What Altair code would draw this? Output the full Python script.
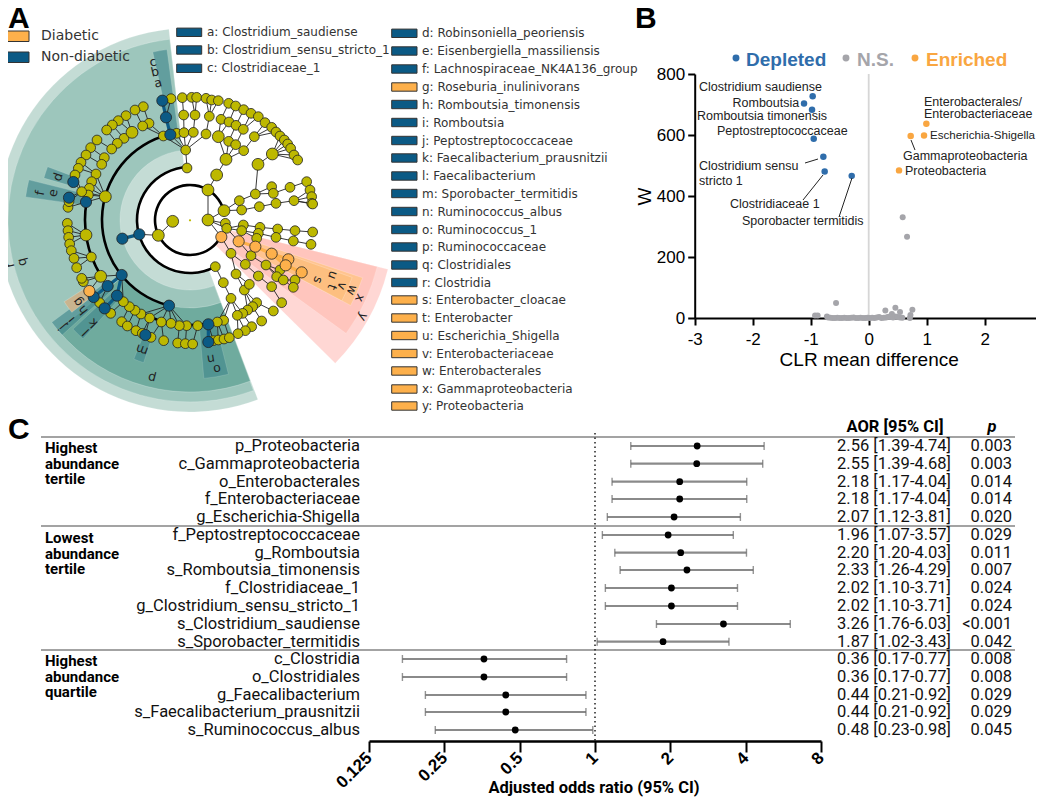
import altair as alt
import numpy as np
import pandas as pd

W, H = 1028, 789
CX, CY = 190, 220

def PX():
    return alt.Scale(domain=[8, 8 + W], range=[0, W], zero=False, nice=False)
def PY():
    return alt.Scale(domain=[8, 8 + H], range=[0, H], zero=False, nice=False)

olive_nodes = [
 (513,296),(547,293),(575,292),(590,292),(618,295),(635,300),(655,302),(686,310),(707,318),(731,329),
 (753,340),(775,350),(795,368),(815,382),(828,396),(840,408),(853,420),(863,432),(872,445),(882,465),(893,480),
 (551,345),(585,345),(628,349),(663,358),(687,366),(708,376),(730,388),(763,410),
 (490,408),(530,400),(552,398),(580,397),(618,402),(686,424),(707,434),(731,452),
 (557,450),(561,504),(718,602),(725,630),(766,582),(778,620),(815,560),(820,580),(828,610),(870,562),(882,602),
 (920,545),(930,570),(935,590),(935,610),(938,612),
 (676,670),(680,685),(730,675),(725,692),(780,682),(775,700),(770,715),(833,687),(828,712),(885,692),(880,723),(938,696),(933,733),
 (693,760),(753,767),(736,793),(798,795),(775,828),(815,860),(646,800),(670,848),(708,822),(733,870),(748,853),(693,895),
 (840,810),(830,830),(850,840),(885,840),(880,862),(845,908),(820,933),(785,963),(755,980),(736,992),(714,1001),
 (770,908),(758,920),(743,930),(728,940),(712,946),(671,961),(652,966),
 (640,1022),(655,1020),(672,1017),(688,1013),
 (593,977),(560,977),(538,977),(513,970),(484,966),(449,954),(423,942),(405,931),(388,920),(370,905),
 (491,1022),(533,1029),(556,1031),(578,1032),(453,1012),(365,965),(382,978),(408,992),(427,1000),
 (274,771),(299,908),(332,940),(250,845),(245,835),
 (202,670),(204,692),(206,712),(209,732),(214,752),(222,775),(230,803),
 (204,622),(207,605),
 (430,320),(405,330),(378,347),(355,362),(337,375),(320,390),(291,420),(272,443),(258,465),(243,487),(235,505),(225,525),
 (447,370),(428,378),(396,397),(372,415),(352,430),(335,447),(313,473),(305,493),(288,522),(275,545),(268,565),(265,585),(245,575),
]
olive_large = [(518,664),(475,706),(624,660),(678,478),(650,525),(624,570),(672,632),(655,410),(774,493),(817,462),
               (316,590),(258,705),(302,829),(396,397)]
blue_nodes = [(487,302),(498,352),(511,404),(220,546),(258,606),(207,593),(418,703),(367,716),(507,917),(625,973),
              (625,1026),(436,1005),(365,825),(323,858),(281,891),(351,887),(314,925)]
orange_nodes = [(664,711),(716,724),(766,740),(815,761),(865,778),(857,796),(905,817),(268,873)]
center_dot = [(570,661)]

# start, end (degrees clockwise from 12 o'clock), inner and outer radius, colour, opacity
wedge_start = [159.3,159.6,159.5,104,104,108.5,109.5,  347.5,286,278,228,222,232,198,166]
wedge_end   = [353.7,353.6,230,134.6,126,118,118,      352.3,290.5,284,233.5,227,237,202,175]
wedge_r0    = [53,70,88,36,53,70,105,                  88,123,105,105,105,123,123,105]
wedge_r1    = [192,182,172,204,193,182,172,            172,152,166,172,160,150,150,159]
wedge_color = ["#c4dcd5","#9dc6bc","#6fab9e","#ffd7d4","#ffc5bd","#ffc490","#fdbf80",
               "#3f878c","#3f878c","#3f878c","#3f878c","#3f878c","#c9b48f","#3f878c","#3f878c"]
wedge_alpha = [1,1,1,1,1,1,1,.62,.62,.62,.62,.62,1,.62,.62]

arc_r     = [35,53,88,105,105]
arc_start = [118,152,195,237,170]
arc_end   = [434,358,347,280,224]

clade_letters = ["a","b","c","d","e","f","g","h","i","j","k","l","m","n","o","p","q","r","s","t","u","v","w","x","y"]
clade_x   = [158,155,153,58,53,40,78,83,71,62,93,86,142,211,217,152,22,10,318,332,333,342,352,360,363]
clade_y   = [83,72,62,177,193,193,302,310,320,327,323,332,350,359,369,378,262,265,280,287,275,286,290,298,317]
clade_rot = [347,347,347,288,281,281,233,232,231,230,225,225,200,171,171,194,256,256,112,112,110,112,113,113,120]

legend_top_labels = ["Diabetic","Non-diabetic"]
legend_top_colors = ["#fdb04b","#0b5a85"]
legend_top_y = [36,57]

col1_labels = ["a: Clostridium_saudiense","b: Clostridium_sensu_stricto_1","c: Clostridiaceae_1"]
col1_y = [32.3,50,68.3]
col2_labels = ["d: Robinsoniella_peoriensis","e: Eisenbergiella_massiliensis","f: Lachnospiraceae_NK4A136_group",
 "g: Roseburia_inulinivorans","h: Romboutsia_timonensis","i: Romboutsia","j: Peptostreptococcaceae",
 "k: Faecalibacterium_prausnitzii","l: Faecalibacterium","m: Sporobacter_termitidis","n: Ruminococcus_albus",
 "o: Ruminococcus_1","p: Ruminococcaceae","q: Clostridiales","r: Clostridia","s: Enterobacter_cloacae",
 "t: Enterobacter","u: Escherichia_Shigella","v: Enterobacteriaceae","w: Enterobacterales",
 "x: Gammaproteobacteria","y: Proteobacteria"]
col2_y = [33.3,51,69,87,104.5,122.5,140.5,158,176,193.5,211.5,229.5,247,265,282.5,300,318,335.5,353.5,371,389,406]
col2_colors = ["#0b5a85"]*3+["#fdb04b"]+["#0b5a85"]*11+["#fdb04b"]*7

# ---------- Panel B: volcano
dep_x = [-0.966,-1.115,-0.977,-0.948,-0.782,-0.759,-0.293]
dep_y = [727,703,683,588,529,480,466]
enr_x = [0.994,0.954,0.724,0.523]
enr_y = [637,598,597,484]
ns_x = [0.586,0.661,-0.563,-0.925,-0.88,0.753,0.287,0.46,0.54,0.4,0.71,0.72,
        -0.72,-0.7,-0.66,-0.62,-0.58,-0.54,-0.5,-0.46,-0.42,-0.38,-0.34,-0.3,-0.26,-0.22,-0.18,-0.14,-0.1,-0.06,-0.02,
        0.02,0.06,0.1,0.14,0.18,0.22,0.26,0.3,0.34,0.38,0.42,0.46,0.5,0.54,0.58]
ns_y = [330,266,49,8,8,27,25,34,20,13,0,10,
        5,2,1,0,0,1,0,0,1,0,0,1,2,0,0,1,0,0,1,
        0,1,0,2,3,0,1,2,4,3,2,5,3,2,1]

volcano_labels = ["Clostridium saudiense","Romboutsia","Romboutsia timonensis","Peptostreptococcaceae",
 "Clostridium sensu","stricto 1","Clostridiaceae 1","Sporobacter termitidis","Enterobacterales/",
 "Enterobacteriaceae","Gammaproteobacteria","Proteobacteria"]
volcano_label_x = [699,732.5,697,717,699,699,730,742,924,924,903,905]
volcano_label_y = [87,103,116,131,166,181,204,221,102,114,156,171]
edge_label = ["Escherichia-Shigella"]
edge_label_x = [930]
edge_label_y = [136]
leader_x1 = [805,803,839,915]
leader_y1 = [163,200,217,150]
leader_x2 = [818,823,852,911]
leader_y2 = [159,175,178,140]

key_labels = ["Depleted","N.S.","Enriched"]
key_text_x = [746,857,926]
key_dot_x = [736,846,915]
key_colors = ["#2f6dab","#a5a5aa","#f9a641"]

# ---------- Panel C: forest
taxa = ["p_Proteobacteria","c_Gammaproteobacteria","o_Enterobacterales","f_Enterobacteriaceae","g_Escherichia-Shigella",
 "f_Peptostreptococcaceae","g_Romboutsia","s_Romboutsia_timonensis","f_Clostridiaceae_1","g_Clostridium_sensu_stricto_1",
 "s_Clostridium_saudiense","s_Sporobacter_termitidis","c_Clostridia","o_Clostridiales","g_Faecalibacterium",
 "s_Faecalibacterium_prausnitzii","s_Ruminococcus_albus"]
aor = [2.56,2.55,2.18,2.18,2.07,1.96,2.20,2.33,2.02,2.02,3.26,1.87,0.36,0.36,0.44,0.44,0.48]
lo  = [1.39,1.39,1.17,1.17,1.12,1.07,1.20,1.26,1.10,1.10,1.76,1.02,0.17,0.17,0.21,0.21,0.23]
hi  = [4.74,4.68,4.04,4.04,3.81,3.57,4.03,4.29,3.71,3.71,6.03,3.43,0.77,0.77,0.92,0.92,0.98]
pval = ["0.003","0.003","0.014","0.014","0.020","0.029","0.011","0.007","0.024","0.024","<0.001","0.042","0.008","0.008","0.029","0.029","0.045"]
row_y = [446,463.7,481.7,499,517,535,552.7,570,588,606,624,641.7,659,677,695,712,730]
aor_text = [f"{a:.2f} [{l:.2f}-{h:.2f}]" for a, l, h in zip(aor, lo, hi)]

group_lines = ["Highest","abundance","tertile","Lowest","abundance","tertile","Highest","abundance","quartile"]
group_y = [448,463.7,479,538,553.5,569,660.7,676.5,692]
sep_y = [437,526,650]
or_ticks = [0.125,0.25,0.5,1,2,4,8]

panel_letters = ["A","B","C"]
panel_x = [8,635,8]
panel_y = [19,19,430]

# ---------- derived tables
def Z(pairs, kind, size):
    a = np.array(pairs, float) / np.array([3, 3])
    return pd.DataFrame({"x": a[:, 0], "y": a[:, 1], "kind": kind, "size": size})

nodes = pd.concat([Z(olive_nodes, "olive", 95), Z(olive_large, "olive", 140), Z(blue_nodes, "blue", 125),
                   Z(orange_nodes, "orange", 125)], ignore_index=True)
nodes["r"] = np.hypot(nodes.x - CX, nodes.y - CY)
edges = []
for i, n in nodes.iterrows():
    if n.r < 22:
        continue
    band = nodes[(nodes.r < n.r - 9) & (nodes.r > n.r - 27)]
    if len(band) == 0:
        continue
    d = np.hypot(band.x - n.x, band.y - n.y)
    if d.min() > 30:
        continue
    p = band.loc[d.idxmin()]
    thick = (p.kind == n.kind) and n.kind != "olive"
    edges.append(dict(x=n.x, y=n.y, x2=p.x, y2=p.y, kind=n.kind if thick else "thin"))
edges = pd.DataFrame(edges)

wedges = pd.DataFrame(dict(cx=CX, cy=CY, t0=np.radians(wedge_start), t1=np.radians(wedge_end), r0=wedge_r0, r1=wedge_r1,
                           c=wedge_color, a=wedge_alpha))
arcs = pd.DataFrame(dict(cx=CX, cy=CY, t0=np.radians(arc_start), t1=np.radians(arc_end),
                         r0=np.array(arc_r) - 1.3, r1=np.array(arc_r) + 1.3))

layers = []
pxx = lambda f="x": alt.X(f"{f}:Q", scale=PX(), axis=None)
pxy = lambda f="y": alt.Y(f"{f}:Q", scale=PY(), axis=None)

def text_layer(df, size, font, color="#000", align="left", weight="normal", style="normal", rot=False):
    enc = dict(x=pxx(), y=pxy(), text="t:N")
    kw = dict(fontSize=size, font=font, align=align, baseline="middle", fontWeight=weight, fontStyle=style)
    if "c" in df:
        enc["color"] = alt.Color("c:N", scale=None)
    else:
        kw["color"] = color
    if rot:
        enc["angle"] = alt.Angle("rot:Q", scale=None)
    return alt.Chart(df).mark_text(**kw).encode(**enc)

layers.append(alt.Chart(wedges).mark_arc(strokeWidth=0.6, stroke="#ffffff", strokeOpacity=0.35).encode(
    x=alt.X("cx:Q", scale=PX(), axis=None), y=alt.Y("cy:Q", scale=PY(), axis=None),
    theta=alt.Theta("t0:Q", scale=None, stack=None), theta2="t1:Q",
    radius=alt.Radius("r1:Q", scale=None), radius2="r0:Q",
    color=alt.Color("c:N", scale=None), opacity=alt.Opacity("a:Q", scale=None),
    order=alt.Order("row:Q")).transform_window(row="row_number()"))

layers.append(alt.Chart(arcs).mark_arc(color="#000000").encode(
    x=alt.X("cx:Q", scale=PX(), axis=None), y=alt.Y("cy:Q", scale=PY(), axis=None),
    theta=alt.Theta("t0:Q", scale=None, stack=None), theta2="t1:Q",
    radius=alt.Radius("r1:Q", scale=None), radius2="r0:Q"))

for kind, col, sw in [("thin", "#222222", 0.9), ("blue", "#0b5a85", 3.2), ("orange", "#fdb04b", 3.2)]:
    layers.append(alt.Chart(edges[edges.kind == kind]).mark_rule(color=col, strokeWidth=sw).encode(
        x=pxx(), y=pxy(), x2="x2:Q", y2="y2:Q"))

for kind, col in [("olive", "#bdb800"), ("blue", "#0b5a85"), ("orange", "#fdb04b")]:
    layers.append(alt.Chart(nodes[nodes.kind == kind]).mark_point(
        filled=True, fill=col, stroke="#222222", strokeWidth=0.8, opacity=1).encode(
        x=pxx(), y=pxy(), size=alt.Size("size:Q", scale=None)))
cd = np.array(center_dot) / 3
layers.append(alt.Chart(pd.DataFrame(dict(x=cd[:, 0], y=cd[:, 1]))).mark_point(
    filled=True, color="#bdb800", size=5, opacity=1).encode(x=pxx(), y=pxy()))

layers.append(text_layer(pd.DataFrame(dict(x=clade_x, y=clade_y, t=clade_letters, rot=clade_rot)), 12.5, "DejaVu Sans", "#222222",
                         align="center", rot=True))

# top legend
lt = pd.DataFrame(dict(x=[0, 0], x2=[29, 29], y=np.array(legend_top_y) - 5, y2=np.array(legend_top_y) + 5.5,
                       c=legend_top_colors, t=legend_top_labels))
def swatches(df):
    return alt.Chart(df).mark_rect(stroke="#333333", strokeWidth=1).encode(
        x=pxx(), x2="x2:Q", y=pxy(), y2="y2:Q", color=alt.Color("c:N", scale=None))
layers.append(swatches(lt))
layers.append(text_layer(pd.DataFrame(dict(x=41, y=legend_top_y, t=legend_top_labels)), 14, "DejaVu Sans", "#333333"))

ys = np.array(col1_y)
layers.append(swatches(pd.DataFrame(dict(x=176.7, x2=201.7, y=ys - 4.2, y2=ys + 4.2, c="#0b5a85"))))
layers.append(text_layer(pd.DataFrame(dict(x=207, y=col1_y, t=col1_labels)), 12, "DejaVu Sans", "#333333"))
ys = np.array(col2_y)
layers.append(swatches(pd.DataFrame(dict(x=391.7, x2=417, y=ys - 4.2, y2=ys + 4.2, c=col2_colors))))
layers.append(text_layer(pd.DataFrame(dict(x=422, y=col2_y, t=col2_labels)), 12, "DejaVu Sans", "#333333"))

# ---------- Panel B layers
VX = lambda axis=None: alt.X("x:Q", scale=alt.Scale(domain=[-3, 3], range=[686.7, 1034.7], nice=False, zero=False), axis=axis)
VY = lambda axis=None: alt.Y("y:Q", scale=alt.Scale(domain=[0, 800], range=[310, 66], nice=False, zero=False), axis=axis)
AF = "Liberation Sans"
layers.append(alt.Chart(pd.DataFrame(dict(x=[0], y=[0], y2=[800]))).mark_rule(color="#d6d6d6", strokeWidth=1.8).encode(
    x=VX(), y=VY(), y2="y2:Q"))
layers.append(alt.Chart(pd.DataFrame(dict(x=ns_x, y=ns_y))).mark_point(filled=True, size=36, color="#a5a5aa", opacity=1).encode(
    x=VX(alt.Axis(orient="bottom", offset=-(H - 310), values=[-3, -2, -1, 0, 1, 2, 3], labelExpr="'' + datum.value",
                  title="CLR mean difference", titleFont=AF, titleFontSize=19, titleFontWeight="normal", titlePadding=3,
                  labelFont=AF, labelFontSize=17, labelColor="#000", labelFlush=False, domainColor="#000", domainWidth=2, tickColor="#000",
                  tickWidth=2, tickSize=7, grid=False, labelPadding=6)),
    y=VY(alt.Axis(orient="left", offset=-686.7, values=[0, 200, 400, 600, 800], title="W", titleFont=AF, titleFontSize=19,
                  titleFontWeight="normal", titlePadding=2, labelFont=AF, labelFontSize=17, labelColor="#000",
                  domainColor="#000", domainWidth=2, tickColor="#000", tickWidth=2, tickSize=7, grid=False, labelPadding=3)))
)
layers.append(alt.Chart(pd.DataFrame(dict(x=dep_x, y=dep_y))).mark_point(filled=True, size=42, color="#2f6dab", opacity=1).encode(x=VX(), y=VY()))
layers.append(alt.Chart(pd.DataFrame(dict(x=enr_x, y=enr_y))).mark_point(filled=True, size=42, color="#f9a641", opacity=1).encode(x=VX(), y=VY()))
layers.append(alt.Chart(pd.DataFrame(dict(x=leader_x1, y=leader_y1, x2=leader_x2, y2=leader_y2))).mark_rule(color="#222222", strokeWidth=1).encode(
    x=pxx(), y=pxy(), x2="x2:Q", y2="y2:Q"))
layers.append(text_layer(pd.DataFrame(dict(x=volcano_label_x, y=volcano_label_y, t=volcano_labels)), 12.5, AF, "#222222"))
layers.append(text_layer(pd.DataFrame(dict(x=edge_label_x, y=edge_label_y, t=edge_label)), 11.6, AF, "#222222"))
layers.append(text_layer(pd.DataFrame(dict(x=key_text_x, y=60, t=key_labels, c=key_colors)), 19, AF, weight="bold"))
layers.append(alt.Chart(pd.DataFrame(dict(x=key_dot_x, y=58, c=key_colors))).mark_point(filled=True, size=48, opacity=1).encode(
    x=pxx(), y=pxy(), color=alt.Color("c:N", scale=None)))

# ---------- Panel C layers
FX = lambda f="x", axis=None: alt.X(f"{f}:Q", scale=alt.Scale(type="log", base=2, domain=[0.125, 8], range=[361, 813], nice=False), axis=axis)
CF = "Roboto"
forest = pd.DataFrame(dict(t=taxa, x=aor, lo=lo, hi=hi, y=row_y))
layers.append(alt.Chart(pd.DataFrame(dict(x=41, x2=1015, y=sep_y))).mark_rule(color="#a3a3a3", strokeWidth=2).encode(
    x=pxx(), x2="x2:Q", y=pxy()))
layers.append(alt.Chart(pd.DataFrame(dict(x=[1], y=[433], y2=[741]))).mark_rule(color="#111111", strokeWidth=1.4, strokeDash=[1.5, 3]).encode(
    x=FX(), y=pxy(), y2="y2:Q"))
layers.append(alt.Chart(forest).mark_rule(color="#8a8a8a", strokeWidth=2.2).encode(x=FX("lo"), x2="hi:Q", y=pxy()))
for f in ("lo", "hi"):
    layers.append(alt.Chart(forest).mark_tick(orient="vertical", size=8, thickness=1.4, color="#666666").encode(x=FX(f), y=pxy()))
layers.append(alt.Chart(forest).mark_point(filled=True, size=46, color="#000000", opacity=1).encode(
    x=FX(axis=alt.Axis(orient="bottom", offset=-(H - 733), values=or_ticks, format="~r", labelAngle=315, labelAlign="right",
                       labelBaseline="middle", labelFont=AF, labelFontSize=17, labelFontWeight="bold", labelColor="#000",
                       labelOverlap=False, labelFlush=False, domainColor="#000", domainWidth=2.4, tickColor="#000", tickWidth=2, tickSize=11, grid=False,
                       labelPadding=3, title=None)),
    y=pxy()))
layers.append(text_layer(pd.DataFrame(dict(x=[594], y=[788], t=["Adjusted odds ratio (95% CI)"])), 16.5, CF, "#000", align="center", weight="bold"))
layers.append(text_layer(pd.DataFrame(dict(x=360, y=row_y, t=taxa)), 16.5, CF, "#111111", align="right"))
layers.append(text_layer(pd.DataFrame(dict(x=951, y=row_y, t=aor_text)), 16.5, CF, "#111111", align="right"))
layers.append(text_layer(pd.DataFrame(dict(x=1012, y=row_y, t=pval)), 16.5, CF, "#111111", align="right"))
layers.append(text_layer(pd.DataFrame(dict(x=45, y=group_y, t=group_lines)), 15, CF, "#000", weight="bold"))
layers.append(text_layer(pd.DataFrame(dict(x=[895], y=[427], t=["AOR [95% CI]"])), 16.5, CF, "#000", align="center", weight="bold"))
layers.append(text_layer(pd.DataFrame(dict(x=[992], y=[427], t=["p"])), 16.5, CF, "#000", align="center", weight="bold", style="italic"))

layers.append(text_layer(pd.DataFrame(dict(x=panel_x, y=panel_y, t=panel_letters)), 30, AF, "#000", weight="bold"))

chart = alt.layer(*layers).resolve_scale(x="independent", y="independent").properties(
    width=W, height=H, padding=0, autosize=alt.AutoSizeParams(type="none")
).configure_view(stroke=None)

chart.save("out.html", embed_options={"renderer": "svg", "actions": False})
